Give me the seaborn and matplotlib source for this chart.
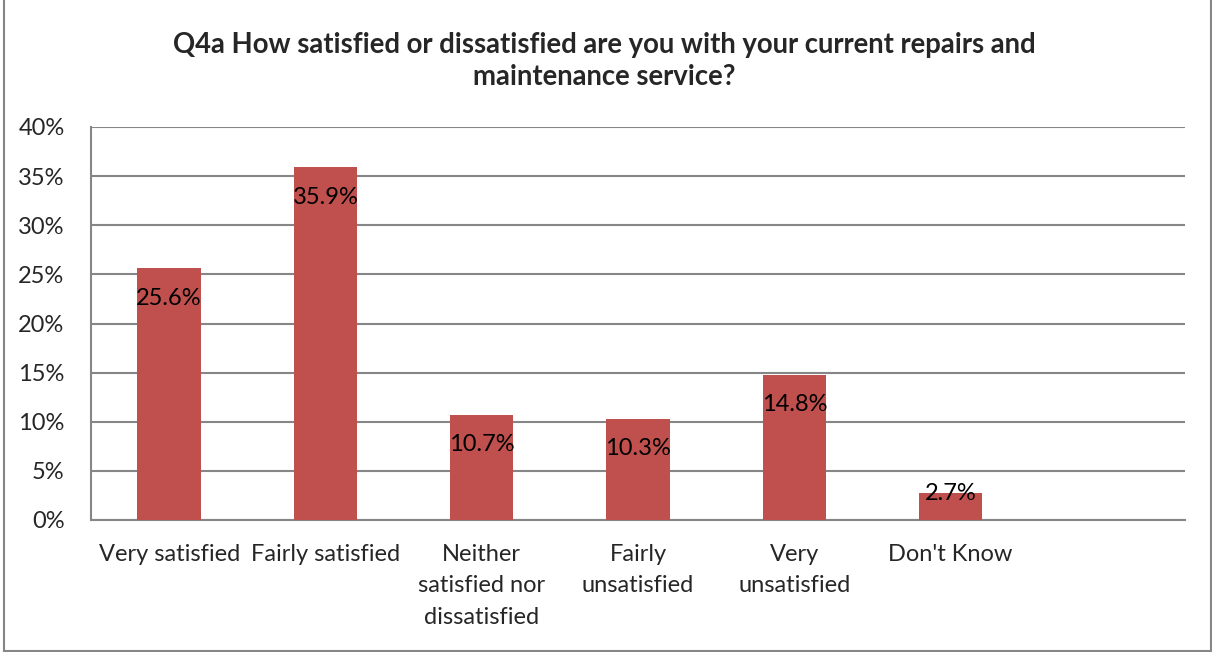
import matplotlib
matplotlib.use("Agg")
import matplotlib.pyplot as plt
from matplotlib.lines import Line2D
from matplotlib.ticker import MultipleLocator, FixedLocator, PercentFormatter
import seaborn as sns
import pandas as pd

categories = ["Very satisfied", "Fairly satisfied", "Neither\nsatisfied nor\ndissatisfied",
              "Fairly\nunsatisfied", "Very\nunsatisfied", "Don't Know"]
values = [25.6, 35.9, 10.7, 10.3, 14.8, 2.7]
title_lines = ["Q4a How satisfied or dissatisfied are you with your current repairs and",
               "maintenance service?"]

sns.set_style("white")
plt.rcParams["font.family"] = ["Lato", "DejaVu Sans"]

W, H = 1212, 652
fig = plt.figure(figsize=(W / 100, H / 100), dpi=100)
ax = fig.add_axes([91 / W, 1 - 520 / H, (1185 - 91) / W, (520 - 127) / H])

df = pd.DataFrame({"cat": categories, "val": values})
sns.barplot(data=df, x="cat", y="val", color="#C0504D", saturation=1,
            width=0.405, linewidth=0, ax=ax, zorder=3)

grid_c = "#868686"
ax.set_xlim(-0.5, 6.5)
ax.set_ylim(0, 40)
ax.yaxis.set_major_locator(MultipleLocator(5))
ax.yaxis.set_major_formatter(PercentFormatter(decimals=0))
ax.grid(axis="y", color=grid_c, linewidth=1.5, zorder=0)
ax.set_axisbelow(True)
for s in ["top", "right"]:
    ax.spines[s].set_visible(False)
for s in ["left", "bottom"]:
    ax.spines[s].set_color(grid_c)
    ax.spines[s].set_linewidth(1.5)
ax.xaxis.set_minor_locator(FixedLocator([i - 0.5 for i in range(8)]))
ax.tick_params(axis="x", which="major", length=0, pad=17, labelsize=17)
ax.tick_params(axis="x", which="minor", length=8, width=1.5, color=grid_c, direction="out")
ax.tick_params(axis="y", length=8, width=1.5, color=grid_c, direction="out", labelsize=17, pad=11)
for lab in ax.get_xticklabels():
    lab.set_linespacing(1.62)
    lab.set_verticalalignment("top")
ax.set_xlabel("")
ax.set_ylabel("")

for i, v in enumerate(values):
    off = -30 if v > 5 else 0
    ax.annotate(f"{v:.1f}%", (i, v), xytext=(0, off), textcoords="offset pixels",
                ha="center", va="center", fontsize=17, color="black", zorder=5)

fig.text(604 / W, 1 - 45 / H, title_lines[0], ha="center", va="center",
         fontsize=19.8, fontweight="bold")
fig.text(604 / W, 1 - 77 / H, title_lines[1], ha="center", va="center",
         fontsize=19.8, fontweight="bold")

# chart frame
frame = dict(color=grid_c, linewidth=1.5, transform=fig.transFigure)
fig.add_artist(Line2D([3.5 / W, 3.5 / W], [0, 1], **frame))
fig.add_artist(Line2D([1210.5 / W, 1210.5 / W], [0, 1], **frame))
fig.add_artist(Line2D([3.5 / W, 1210.5 / W], [1.5 / H, 1.5 / H], **frame))

fig.savefig("out.png", dpi=100)
